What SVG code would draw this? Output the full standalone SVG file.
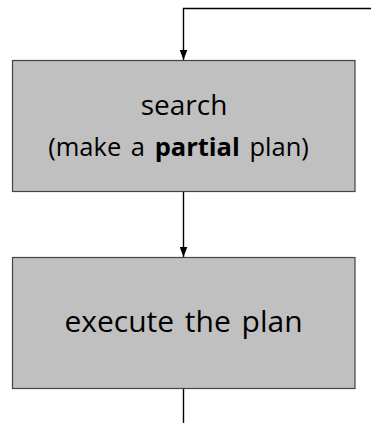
<svg xmlns="http://www.w3.org/2000/svg" width="371" height="423" viewBox="0 0 371 423">
  <style>
    .box { fill: #c0c0c0; stroke: #444444; stroke-width: 1.2; }
    .lbl { font-family: "Open Sans", "Noto Sans", sans-serif; fill: #000; text-anchor: middle; word-spacing: 3px; }
    .conn { fill: none; stroke: #000; stroke-width: 1.4; }
  </style>
  <defs>
    <marker id="arrowDown" markerWidth="8" markerHeight="11" refX="4" refY="10.5" orient="0" markerUnits="userSpaceOnUse" viewBox="0 0 8 11">
      <path d="M0,0 L8,0 L4,10.5 Z" fill="#000"/>
    </marker>
  </defs>
  <g id="connectors">
    <path class="conn" d="M371,8.5 L183.5,8.5 L183.5,60" marker-end="url(#arrowDown)"/>
    <path class="conn" d="M183.5,192 L183.5,257" marker-end="url(#arrowDown)"/>
    <path class="conn" d="M183.5,389 L183.5,423"/>
  </g>
  <g id="search">
    <rect class="box" x="12.5" y="60.5" width="342.5" height="131"/>
    <text class="lbl" x="184" y="114.5" font-size="28">search</text>
    <text class="lbl" x="178.5" y="155.5" font-size="25.5">(make a <tspan font-weight="bold">partial</tspan> plan)</text>
  </g>
  <g id="execute">
    <rect class="box" x="12.5" y="257.5" width="342.5" height="131"/>
    <text class="lbl" x="183.5" y="332" font-size="30">execute the plan</text>
  </g>
</svg>
